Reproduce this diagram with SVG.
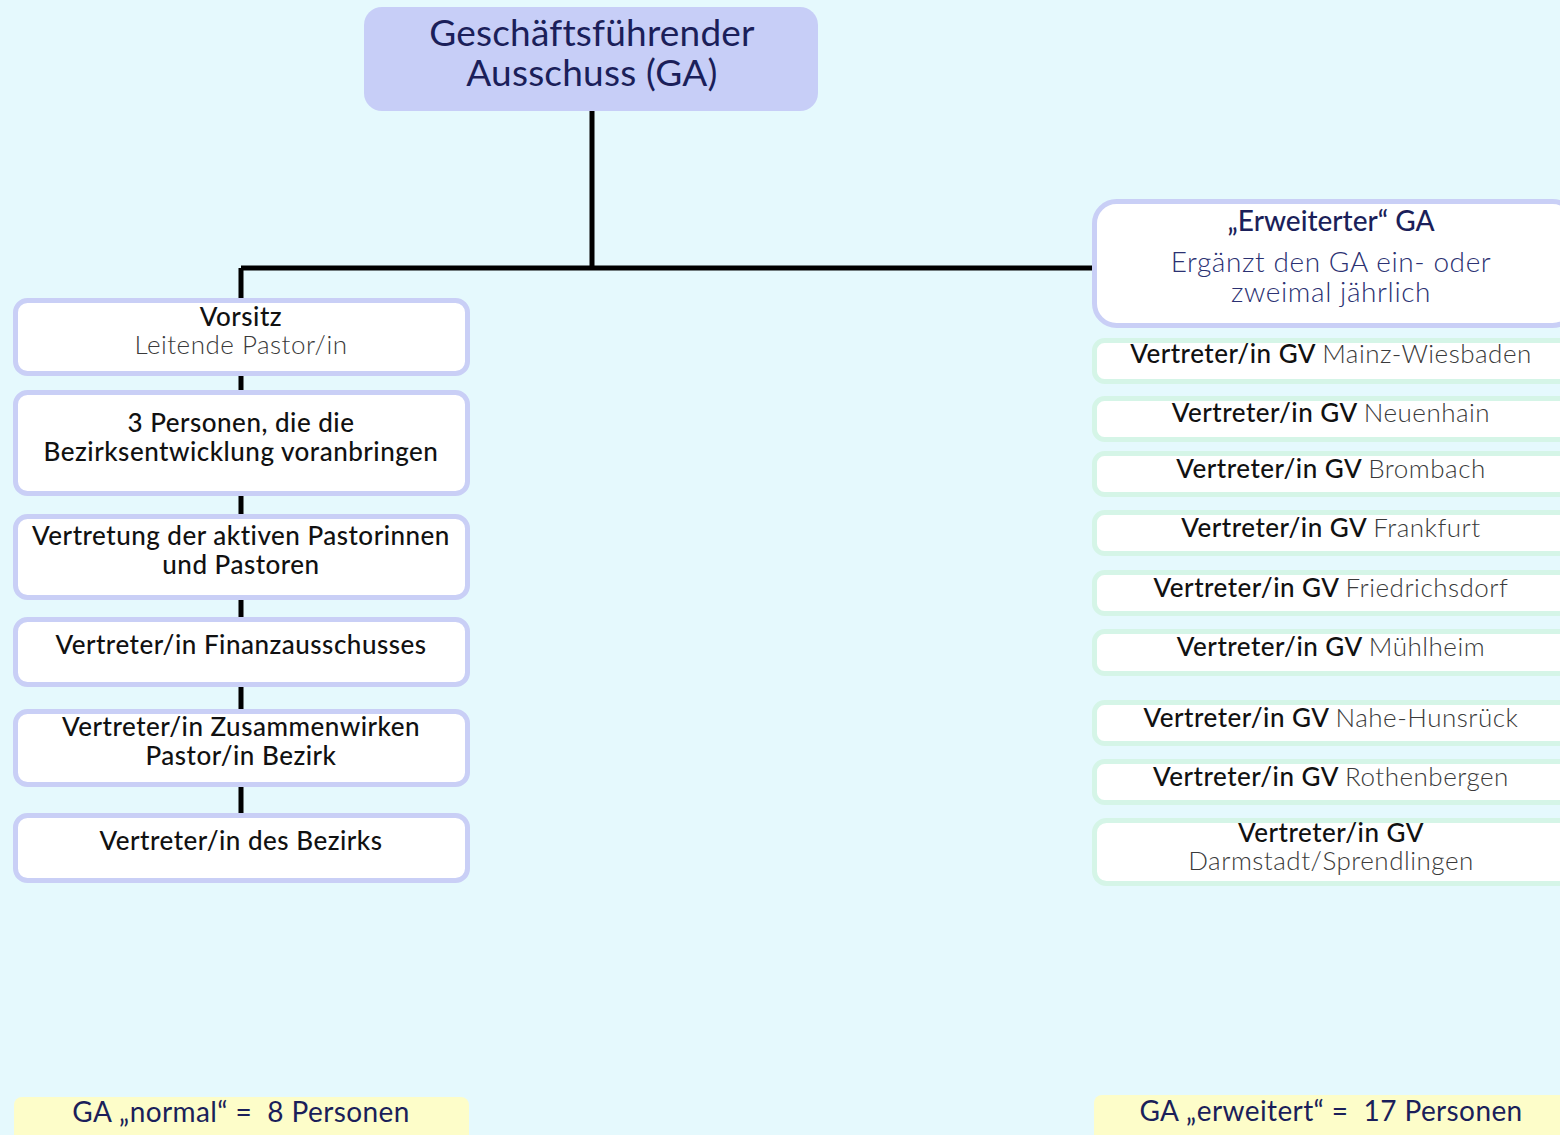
<svg xmlns="http://www.w3.org/2000/svg" width="1560" height="1135" viewBox="0 0 1560 1135">
<style>
text{font-family:"Lato","Noto Sans",sans-serif;text-anchor:middle}
.bl{fill:#fff;stroke:#c9cff6;stroke-width:5}
.gr{fill:#fff;stroke:#d5f5e7;stroke-width:5}
.m{font-size:26px;fill:#111;font-weight:500;letter-spacing:0.5px}
.s{font-size:26px;fill:#3a3a3a;font-weight:300;letter-spacing:0.5px}
.n{fill:#1b1f5a}
.y{fill:#fdfdc9}
.c{stroke:#000;stroke-width:5;fill:none}
</style>
<rect width="1560" height="1135" fill="#e5f9fd"/>
<g id="connectors">
<path class="c" d="M592 111V268M241 268H1092M241 268V300M241 376V390M241 496V514M241 600V617M241 687V709M241 787V813"/>
</g>
<g id="top"><rect x="364" y="7" width="454" height="104" rx="18" fill="#c7cef7"/>
<text x="592" y="46" font-size="37" class="n" letter-spacing="0.2">Geschäftsführender</text>
<text x="592" y="86" font-size="37" class="n" letter-spacing="0.2">Ausschuss (GA)</text></g>
<g id="l1"><rect class="bl" x="15.5" y="300.5" width="452" height="73" rx="12"/>
<text x="241" y="326" class="m">Vorsitz</text><text x="241" y="354" class="s">Leitende Pastor/in</text></g>
<g id="l2"><rect class="bl" x="15.5" y="392.5" width="452" height="101" rx="12"/>
<text x="241" y="432" class="m">3 Personen, die die</text><text x="241" y="461" class="m">Bezirksentwicklung voranbringen</text></g>
<g id="l3"><rect class="bl" x="15.5" y="516.5" width="452" height="81" rx="12"/>
<text x="241" y="545" class="m">Vertretung der aktiven Pastorinnen</text><text x="241" y="574" class="m">und Pastoren</text></g>
<g id="l4"><rect class="bl" x="15.5" y="619.5" width="452" height="65" rx="12"/>
<text x="241" y="654" class="m">Vertreter/in Finanzausschusses</text></g>
<g id="l5"><rect class="bl" x="15.5" y="711.5" width="452" height="73" rx="12"/>
<text x="241" y="736" class="m">Vertreter/in Zusammenwirken</text><text x="241" y="765" class="m">Pastor/in Bezirk</text></g>
<g id="l6"><rect class="bl" x="15.5" y="815.5" width="452" height="65" rx="12"/>
<text x="241" y="850" class="m">Vertreter/in des Bezirks</text></g>
<g id="erw"><rect class="bl" x="1094.5" y="201.5" width="480" height="124" rx="22"/>
<text x="1331" y="231" font-size="28" class="n" font-weight="500">„Erweiterter“ GA</text>
<text x="1331" y="272" font-size="28" fill="#2b3172" font-weight="300" letter-spacing="0.6">Ergänzt den GA ein- oder</text>
<text x="1331" y="302" font-size="28" fill="#2b3172" font-weight="300" letter-spacing="0.6">zweimal jährlich</text></g>
<g id="r1"><rect class="gr" x="1094.5" y="340.5" width="480" height="41" rx="10"/><text x="1331" y="363" class="m">Vertreter/in GV <tspan class="s">Mainz-Wiesbaden</tspan></text></g>
<g id="r2"><rect class="gr" x="1094.5" y="398.5" width="480" height="41" rx="10"/><text x="1331" y="422" class="m">Vertreter/in GV <tspan class="s">Neuenhain</tspan></text></g>
<g id="r3"><rect class="gr" x="1094.5" y="453.5" width="480" height="41" rx="10"/><text x="1331" y="478" class="m">Vertreter/in GV <tspan class="s">Brombach</tspan></text></g>
<g id="r4"><rect class="gr" x="1094.5" y="512.5" width="480" height="41" rx="10"/><text x="1331" y="537" class="m">Vertreter/in GV <tspan class="s">Frankfurt</tspan></text></g>
<g id="r5"><rect class="gr" x="1094.5" y="572.5" width="480" height="41" rx="10"/><text x="1331" y="597" class="m">Vertreter/in GV <tspan class="s">Friedrichsdorf</tspan></text></g>
<g id="r6"><rect class="gr" x="1094.5" y="631.5" width="480" height="42" rx="10"/><text x="1331" y="656" class="m">Vertreter/in GV <tspan class="s">Mühlheim</tspan></text></g>
<g id="r7"><rect class="gr" x="1094.5" y="702.5" width="480" height="41" rx="10"/><text x="1331" y="727" class="m">Vertreter/in GV <tspan class="s">Nahe-Hunsrück</tspan></text></g>
<g id="r8"><rect class="gr" x="1094.5" y="761.5" width="480" height="41" rx="10"/><text x="1331" y="786" class="m">Vertreter/in GV <tspan class="s">Rothenbergen</tspan></text></g>
<g id="r9"><rect class="gr" x="1094.5" y="820.5" width="480" height="63" rx="12"/><text x="1331" y="842" class="m">Vertreter/in GV</text><text x="1331" y="870" class="s">Darmstadt/Sprendlingen</text></g>
<g id="sumL"><rect class="y" x="14" y="1097" width="455" height="50" rx="8"/><text x="241" y="1122" font-size="28" class="n" letter-spacing="0.4" xml:space="preserve">GA „normal“ =  8 Personen</text></g>
<g id="sumR"><rect class="y" x="1094" y="1095" width="480" height="50" rx="8"/><text x="1331" y="1121" font-size="28" class="n" letter-spacing="0.4" xml:space="preserve">GA „erweitert“ =  17 Personen</text></g>
</svg>
